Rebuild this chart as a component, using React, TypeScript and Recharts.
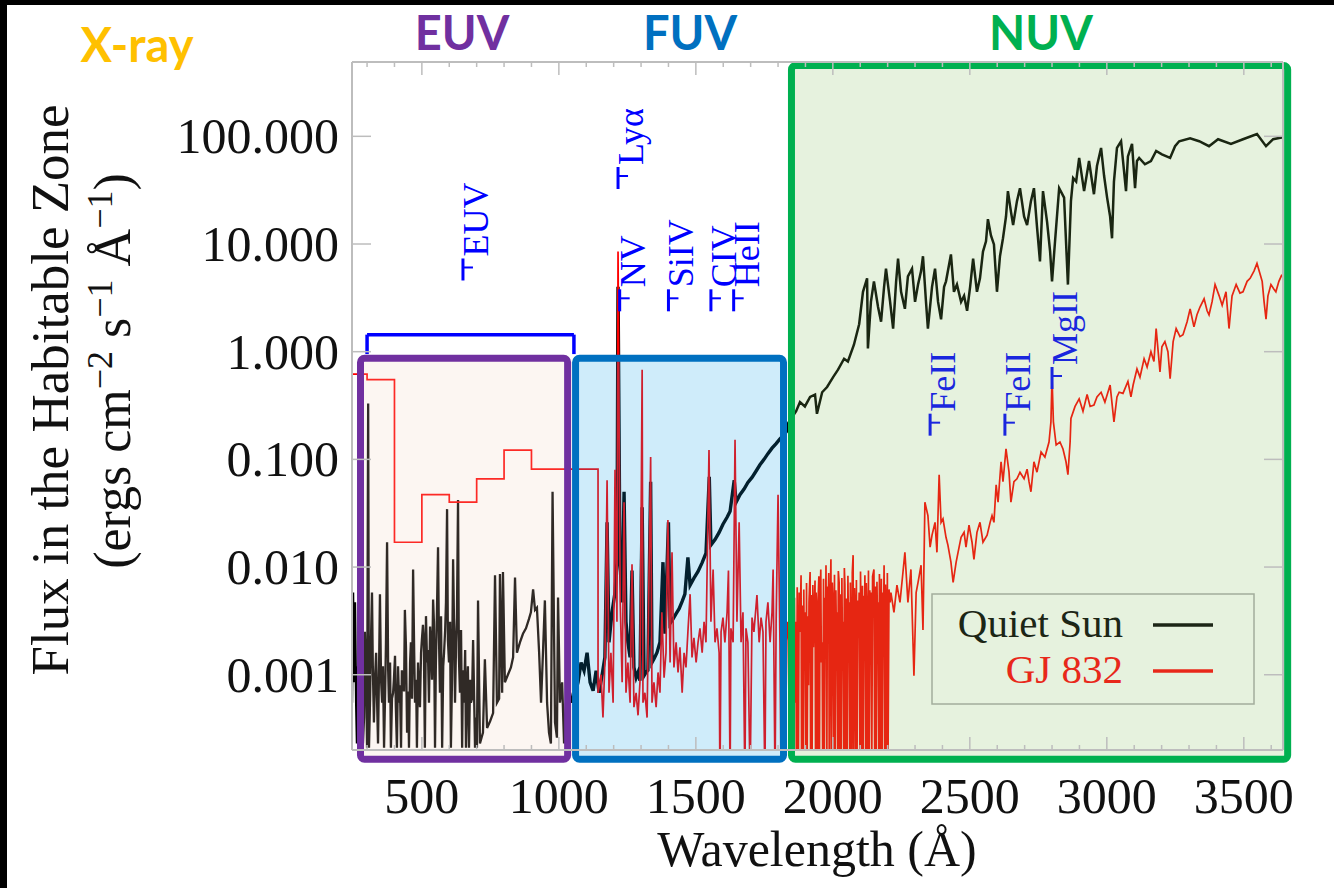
import {
  ComposedChart,
  Line,
  XAxis,
  YAxis,
  ReferenceArea,
  ReferenceDot,
  ReferenceLine,
  Legend
} from "recharts";

/* ---------- FONTS / COLOURS ---------- */

const SERIF = '"Liberation Serif", "Times New Roman", serif';
const SANS = 'Lato, "Open Sans", sans-serif';
const FRAME = "#bdbdbd";
const LINE_BLUE = "#0000ff";

/* ---------- SPECTRA  [wavelength (Å), flux (ergs cm-2 s-1 Å-1)] ---------- */

const quietSunEUV: [number, number][] = [
  [245, 0.00055], [249, 0.0058], [252, 0.00085], [256, 0.0047], [260, 0.00055], [263, 0.00023],
  [267, 0.0012], [271, 0.00036], [274, 0.0009], [278, 0.0047], [282, 0.0015], [285, 0.00023],
  [289, 0.0004], [292, 0.0025], [296, 0.0011], [300, 0.00021], [304, 0.33], [307, 0.00021],
  [311, 0.0006], [314, 0.002], [318, 0.0058], [321, 0.0012], [325, 0.00036], [329, 0.0009],
  [333, 0.0016], [337, 0.0005], [340, 0.00023], [344, 0.0013], [347, 0.0056], [351, 0.0009],
  [355, 0.00055], [358, 0.0012], [362, 0.00021], [366, 0.0007], [369, 0.002], [373, 0.017],
  [377, 0.0011], [380, 0.00055], [384, 0.0013], [387, 0.00021], [391, 0.0006], [395, 0.00068],
  [398, 0.0009], [402, 0.0015], [405, 0.0005], [409, 0.00021], [413, 0.0012], [417, 0.00055],
  [420, 0.0008], [424, 0.00021], [427, 0.0011], [431, 0.00085], [435, 0.0007], [438, 0.004],
  [442, 0.0018], [446, 0.00029], [450, 0.0007], [453, 0.00021], [457, 0.0013], [460, 0.002],
  [464, 0.0006], [468, 0.0095], [472, 0.0016], [475, 0.00055], [479, 0.0009], [482, 0.00021],
  [486, 0.0013], [490, 0.00068], [493, 0.0005], [497, 0.0016], [500, 0.0021], [504, 0.0029],
  [507, 0.0022], [511, 0.00021], [515, 0.0035], [519, 0.0013], [522, 0.0017], [526, 0.00055],
  [530, 0.0028], [533, 0.002], [537, 0.0009], [541, 0.005], [544, 0.0031], [548, 0.00021],
  [551, 0.0012], [555, 0.0038], [559, 0.0153], [562, 0.0026], [566, 0.00068], [570, 0.0035],
  [574, 0.00021], [578, 0.0012], [581, 0.0016], [585, 0.0026], [588, 0.0047], [592, 0.0345],
  [595, 0.0021], [599, 0.0013], [603, 0.0031], [606, 0.00021], [610, 0.0009], [614, 0.0118],
  [618, 0.0024], [621, 0.00055], [625, 0.002], [628, 0.0034], [632, 0.042], [635, 0.0015],
  [639, 0.00068], [643, 0.0026], [647, 0.00021], [650, 0.0011], [654, 0.00055], [658, 0.0017],
  [661, 0.00021], [665, 0.00079], [668, 0.0012], [672, 0.00021], [676, 0.0009], [679, 0.00055],
  [683, 0.0006], [687, 0.0021], [690, 0.0008], [694, 0.00021], [697, 0.0004], [701, 0.00021],
  [705, 0.0049], [712, 0.00023], [723, 0.00029], [730, 0.00139], [738, 0.00032], [749, 0.00037],
  [760, 0.00044], [767, 0.0084], [774, 0.00055], [782, 0.0006], [785, 0.0086], [793, 0.00068],
  [796, 0.009], [803, 0.00085], [814, 0.001], [825, 0.00117], [833, 0.00145], [840, 0.008],
  [847, 0.0016], [858, 0.002], [869, 0.0024], [880, 0.0027], [891, 0.0033], [898, 0.0038],
  [906, 0.0062], [913, 0.004], [920, 0.0042], [928, 0.0016], [935, 0.00055], [942, 0.0016],
  [949, 0.0049], [957, 0.00055], [964, 0.00029], [971, 0.00023], [977, 0.05], [986, 0.00036],
  [993, 0.00026], [997, 0.0052], [1004, 0.00055], [1012, 0.00085], [1019, 0.00023], [1026, 0.00055],
  [1033, 0.00021], [1041, 0.00068], [1048, 0.00055]
];

const quietSunFUV: [number, number][] = [
  [1048, 0.00055], [1059, 0.00068], [1070, 0.00085], [1081, 0.0013], [1092, 0.00109], [1103, 0.0016],
  [1114, 0.00085], [1125, 0.00071], [1136, 0.00109], [1147, 0.00068], [1158, 0.001], [1168, 0.00145],
  [1176, 0.026], [1183, 0.002], [1194, 0.0038], [1205, 0.0058], [1212, 0.0111], [1216, 4.0],
  [1223, 0.0111], [1231, 0.0047], [1238, 0.05], [1245, 0.0031], [1252, 0.002], [1260, 0.00145],
  [1267, 0.0093], [1274, 0.00117], [1282, 0.00094], [1289, 0.00105], [1296, 0.00088], [1304, 0.036],
  [1311, 0.00098], [1318, 0.00105], [1325, 0.0011], [1335, 0.062], [1340, 0.0013], [1347, 0.0014],
  [1358, 0.0016], [1369, 0.002], [1380, 0.0111], [1387, 0.0024], [1400, 0.026], [1406, 0.003],
  [1417, 0.0033], [1428, 0.0037], [1439, 0.0041], [1450, 0.0048], [1460, 0.0056], [1471, 0.0123],
  [1479, 0.0068], [1493, 0.0079], [1508, 0.0091], [1523, 0.011], [1537, 0.0135], [1549, 0.069],
  [1555, 0.016], [1570, 0.018], [1585, 0.021], [1599, 0.025], [1614, 0.029], [1625, 0.033],
  [1640, 0.064], [1647, 0.04], [1661, 0.047], [1676, 0.053], [1690, 0.061], [1705, 0.068],
  [1720, 0.078], [1734, 0.089], [1749, 0.1], [1763, 0.113], [1778, 0.127], [1793, 0.14],
  [1807, 0.155], [1822, 0.17], [1833, 0.185], [1840, 0.223]
];

const quietSunNUV: [number, number][] = [
  [1840, 0.223], [1866, 0.28], [1880, 0.34], [1898, 0.31], [1917, 0.38], [1935, 0.4],
  [1942, 0.265], [1961, 0.42], [1979, 0.47], [2001, 0.58], [2019, 0.68], [2041, 0.86],
  [2055, 0.81], [2077, 1.16], [2096, 1.8], [2110, 3.6], [2125, 4.8], [2128, 1.07],
  [2139, 2.9], [2150, 4.5], [2165, 2.6], [2176, 1.9], [2187, 4.0], [2194, 5.9],
  [2209, 2.9], [2220, 1.64], [2231, 4.5], [2238, 7.3], [2249, 3.6], [2263, 2.5],
  [2274, 5.0], [2289, 5.9], [2300, 2.9], [2311, 4.2], [2322, 5.6], [2329, 7.7],
  [2340, 2.9], [2347, 1.64], [2362, 4.0], [2373, 5.9], [2384, 2.9], [2395, 2.0],
  [2406, 4.0], [2413, 4.5], [2431, 8.0], [2442, 3.6], [2453, 4.2], [2468, 2.9],
  [2479, 3.3], [2490, 2.4], [2501, 4.0], [2512, 7.3], [2526, 3.6], [2537, 4.8],
  [2548, 8.5], [2559, 10.6], [2566, 17], [2577, 12], [2588, 9.9], [2599, 3.6],
  [2610, 7.7], [2621, 11.3], [2632, 18], [2639, 31], [2650, 20], [2658, 15],
  [2672, 25], [2683, 33], [2698, 18], [2709, 15], [2723, 25], [2734, 33],
  [2745, 14.6], [2756, 6.9], [2767, 31], [2782, 16], [2793, 8.5], [2800, 4.5],
  [2811, 10.6], [2826, 33], [2844, 27], [2858, 4.2], [2869, 25], [2877, 41],
  [2888, 38], [2899, 63], [2917, 31], [2935, 59], [2953, 29], [2964, 53],
  [2979, 78], [2990, 43], [3001, 27], [3012, 18], [3019, 11.3], [3026, 38],
  [3037, 78], [3052, 90], [3063, 47], [3070, 31], [3077, 65], [3092, 85],
  [3103, 33], [3110, 59], [3118, 63], [3139, 55], [3161, 59], [3180, 73],
  [3201, 68], [3231, 63], [3249, 81], [3264, 90], [3304, 96], [3337, 90],
  [3373, 81], [3406, 94], [3453, 85], [3497, 94], [3548, 105], [3581, 81],
  [3607, 94], [3643, 98]
];

// GJ 832 EUV model in 100 Å bins, then the observed spectrum
const gj832Model: [number, number][] = [
  [245, 0.62], [300, 0.62], [300, 0.55], [400, 0.55], [400, 0.017], [500, 0.017],
  [500, 0.047], [600, 0.047], [600, 0.04], [700, 0.04], [700, 0.066], [800, 0.066],
  [800, 0.122], [900, 0.122], [900, 0.081], [1143, 0.081]
];

const gj832FUV: [number, number][] = [
  [1143, 0.00068], [1154, 0.001], [1161, 0.0004], [1168, 0.0013], [1176, 0.064], [1183, 0.00068],
  [1190, 0.0016], [1198, 0.00055], [1205, 0.08], [1212, 0.0031], [1216, 8.5], [1224, 0.0047],
  [1231, 0.00085], [1238, 0.04], [1245, 0.00068], [1252, 0.0013], [1260, 0.00055], [1267, 0.0106],
  [1274, 0.0005], [1282, 0.00068], [1289, 0.00042], [1296, 0.00085], [1304, 0.68], [1307, 0.00055],
  [1314, 0.00068], [1322, 0.0004], [1335, 0.105], [1340, 0.00055], [1347, 0.00085], [1355, 0.0005],
  [1362, 0.00105], [1369, 0.00068], [1376, 0.0038], [1384, 0.00094], [1391, 0.0016], [1398, 0.0273],
  [1406, 0.0013], [1413, 0.0137], [1420, 0.00117], [1428, 0.002], [1435, 0.00105], [1442, 0.0018],
  [1450, 0.00068], [1457, 0.0016], [1464, 0.00117], [1471, 0.0025], [1479, 0.0056], [1486, 0.00145],
  [1493, 0.0022], [1501, 0.0013], [1508, 0.002], [1515, 0.0027], [1523, 0.0016], [1530, 0.0031],
  [1537, 0.002], [1548, 0.122], [1555, 0.0031], [1563, 0.0095], [1570, 0.002], [1577, 0.0027],
  [1585, 0.0016], [1588, 0.0001], [1592, 0.0025], [1599, 0.0034], [1606, 0.002], [1614, 0.0038],
  [1619, 0.0093], [1625, 0.0001], [1628, 0.0027], [1636, 0.002], [1643, 0.152], [1650, 0.0031],
  [1658, 0.026], [1665, 0.002], [1672, 0.0038], [1679, 0.0001], [1683, 0.0027], [1690, 0.002],
  [1698, 0.0001], [1705, 0.0034], [1712, 0.0025], [1723, 0.0055], [1731, 0.002], [1738, 0.0034],
  [1745, 0.0025], [1752, 0.0001], [1756, 0.0031], [1763, 0.0047], [1771, 0.002], [1778, 0.0038],
  [1782, 0.0095], [1789, 0.0001], [1793, 0.0031], [1800, 0.047], [1807, 0.002], [1811, 0.0001],
  [1818, 0.0038], [1825, 0.0001], [1833, 0.0031]
];

const gj832NUV: [number, number][] = [
  [1840, 0.002], [1842, 0.0001], [1845, 0.0042], [1847, 0.0001], [1850, 0.003], [1853, 0.0006],
  [1855, 0.0047], [1858, 0.0001], [1860, 0.0052], [1862, 0.00055], [1865, 0.0031], [1867, 0.0001],
  [1870, 0.0065], [1872, 0.0015], [1874, 0.0001], [1877, 0.0058], [1880, 0.0025], [1884, 0.0084],
  [1886, 0.0001], [1889, 0.0044], [1891, 0.0001], [1894, 0.0062], [1896, 0.0012], [1898, 0.0038],
  [1901, 0.0001], [1904, 0.0071], [1906, 0.0001], [1909, 0.0035], [1911, 0.0008], [1913, 0.0047],
  [1917, 0.009], [1919, 0.0001], [1922, 0.0055], [1924, 0.0001], [1927, 0.0068], [1929, 0.0018],
  [1931, 0.0031], [1935, 0.0075], [1937, 0.0001], [1939, 0.0058], [1942, 0.0028], [1944, 0.0001],
  [1946, 0.0049], [1949, 0.0082], [1951, 0.0001], [1953, 0.0047], [1956, 0.0095], [1958, 0.0013],
  [1961, 0.002], [1963, 0.0001], [1966, 0.0078], [1968, 0.0001], [1971, 0.0052], [1973, 0.0021],
  [1975, 0.0104], [1978, 0.0001], [1980, 0.0066], [1982, 0.0031], [1985, 0.0088], [1987, 0.0001],
  [1990, 0.0043], [1993, 0.0118], [1995, 0.0001], [1998, 0.0072], [2001, 0.0047], [2004, 0.0001],
  [2006, 0.0085], [2008, 0.0001], [2011, 0.0061], [2013, 0.0024], [2015, 0.0038], [2018, 0.0001],
  [2020, 0.0092], [2023, 0.0072], [2025, 0.0001], [2028, 0.0056], [2030, 0.0001], [2033, 0.0079],
  [2035, 0.0019], [2037, 0.0031], [2040, 0.0001], [2042, 0.0098], [2044, 0.0068], [2047, 0.0001],
  [2049, 0.0051], [2052, 0.0001], [2055, 0.0083], [2057, 0.0027], [2059, 0.0047], [2062, 0.0001],
  [2064, 0.0072], [2066, 0.002], [2069, 0.0001], [2071, 0.0089], [2074, 0.0129], [2076, 0.0001],
  [2079, 0.0064], [2081, 0.0038], [2084, 0.0001], [2086, 0.0076], [2088, 0.0001], [2091, 0.0049],
  [2093, 0.0022], [2096, 0.0058], [2099, 0.0001], [2101, 0.0091], [2103, 0.0031], [2106, 0.0001],
  [2108, 0.0067], [2110, 0.0001], [2113, 0.0054], [2115, 0.0018], [2117, 0.0084], [2120, 0.0001],
  [2122, 0.0071], [2125, 0.0038], [2127, 0.0001], [2130, 0.0093], [2132, 0.0001], [2135, 0.0061],
  [2137, 0.0025], [2139, 0.0058], [2142, 0.0001], [2145, 0.0082], [2150, 0.0095], [2153, 0.0001],
  [2155, 0.0066], [2158, 0.0001], [2161, 0.0073], [2163, 0.0029], [2165, 0.0047], [2168, 0.0001],
  [2170, 0.0086], [2172, 0.0031], [2175, 0.0001], [2177, 0.0078], [2180, 0.0001], [2183, 0.0058],
  [2185, 0.0036], [2187, 0.0104], [2190, 0.0001], [2192, 0.0069], [2194, 0.0047], [2197, 0.0001],
  [2199, 0.0088], [2201, 0.0001], [2205, 0.0062], [2209, 0.0047], [2212, 0.0058], [2223, 0.0038],
  [2234, 0.0068], [2245, 0.0047], [2256, 0.009], [2263, 0.0137], [2274, 0.0047], [2285, 0.0095],
  [2296, 0.00098], [2304, 0.0058], [2311, 0.0072], [2322, 0.0104], [2329, 0.0026], [2336, 0.04],
  [2347, 0.03], [2355, 0.0153], [2362, 0.0198], [2373, 0.026], [2380, 0.0137], [2388, 0.072],
  [2395, 0.026], [2402, 0.028], [2413, 0.0189], [2420, 0.016], [2431, 0.0111], [2439, 0.0072],
  [2450, 0.0111], [2457, 0.0137], [2468, 0.0189], [2479, 0.021], [2486, 0.0153], [2497, 0.0245],
  [2508, 0.017], [2515, 0.0118], [2526, 0.021], [2537, 0.026], [2548, 0.017], [2563, 0.0198],
  [2574, 0.026], [2581, 0.03], [2588, 0.026], [2596, 0.058], [2603, 0.04], [2614, 0.095],
  [2621, 0.062], [2632, 0.125], [2643, 0.076], [2650, 0.04], [2661, 0.062], [2672, 0.066],
  [2683, 0.076], [2698, 0.066], [2709, 0.081], [2716, 0.062], [2723, 0.05], [2734, 0.095],
  [2745, 0.076], [2760, 0.117], [2774, 0.105], [2789, 0.145], [2796, 0.223], [2800, 0.58],
  [2805, 0.223], [2815, 0.136], [2829, 0.145], [2840, 0.125], [2851, 0.095], [2858, 0.072],
  [2866, 0.145], [2869, 0.24], [2884, 0.31], [2899, 0.365], [2913, 0.28], [2928, 0.4],
  [2939, 0.31], [2953, 0.32], [2964, 0.38], [2979, 0.42], [2993, 0.34], [3012, 0.49],
  [3026, 0.223], [3037, 0.38], [3045, 0.42], [3059, 0.41], [3077, 0.53], [3088, 0.38],
  [3096, 0.49], [3110, 0.69], [3121, 0.58], [3136, 0.86], [3147, 0.72], [3161, 1.0],
  [3172, 0.81], [3180, 1.64], [3194, 0.65], [3201, 1.11], [3212, 1.24], [3223, 1.0],
  [3231, 0.56], [3242, 1.24], [3253, 1.64], [3267, 1.38], [3278, 1.44], [3293, 1.9],
  [3304, 2.5], [3318, 1.7], [3329, 2.2], [3340, 2.6], [3355, 3.1], [3366, 2.4],
  [3373, 2.2], [3384, 2.9], [3395, 4.2], [3410, 3.3], [3421, 2.7], [3435, 3.6],
  [3446, 1.64], [3457, 3.3], [3472, 4.2], [3486, 3.5], [3497, 3.6], [3512, 4.5],
  [3523, 4.8], [3537, 5.6], [3548, 6.6], [3559, 5.3], [3567, 4.5], [3574, 2.9],
  [3581, 2.0], [3588, 3.3], [3599, 4.2], [3610, 3.8], [3617, 3.6], [3628, 4.5],
  [3639, 5.2]
];

/* ---------- AXES ---------- */

const xMajorTicks = [500, 1000, 1500, 2000, 2500, 3000, 3500];
const xAllTicks = [
  300, 400, 500, 600, 700, 800, 900, 1000, 1100, 1200, 1300, 1400, 1500, 1600, 1700, 1800, 1900,
  2000, 2100, 2200, 2300, 2400, 2500, 2600, 2700, 2800, 2900, 3000, 3100, 3200, 3300, 3400, 3500, 3600
];
const yTicks = [0.001, 0.01, 0.1, 1, 10, 100];

/* ---------- LINE IDENTIFICATIONS ---------- */

const lineIds = [
  { name: "EUV", w: 650, f: 5.8 },
  { name: "Lyα", w: 1216, f: 41 },
  { name: "NV", w: 1222, f: 3.0 },
  { name: "SiIV", w: 1400, f: 3.0 },
  { name: "CIV", w: 1555, f: 3.0 },
  { name: "HeII", w: 1638, f: 3.0 },
  { name: "FeII", w: 2355, f: 0.21 },
  { name: "FeII", w: 2628, f: 0.21 },
  { name: "MgII", w: 2800, f: 0.57 }
];

/* ---------- HELPERS ---------- */

const toPoints = (rows: [number, number][]) => rows.map(([w, f]) => ({ w, f }));

const gj832 = toPoints([...gj832Model, ...gj832FUV, ...gj832NUV]);

const sunBands = [
  { key: "euv", data: toPoints(quietSunEUV), width: 2.3 },
  { key: "fuv", data: toPoints(quietSunFUV), width: 3.4 },
  { key: "nuv", data: toPoints(quietSunNUV), width: 2.5 }
];

function BottomTick({ x, y, payload }: any) {
  const major = xMajorTicks.includes(payload.value);
  return (
    <g>
      <line x1={x} x2={x} y1={y} y2={y - (major ? 13 : 5)} stroke={FRAME} strokeWidth={1.5} />
      {major && (
        <text x={x} y={y + 63} textAnchor="middle" fontFamily={SERIF} fontSize={50} fill="#111">
          {payload.value}
        </text>
      )}
    </g>
  );
}

function TopTick({ x, y, payload }: any) {
  const major = xMajorTicks.includes(payload.value);
  return <line x1={x} x2={x} y1={y} y2={y + (major ? 13 : 5)} stroke={FRAME} strokeWidth={1.5} />;
}

function LeftTick({ x, y, payload }: any) {
  return (
    <g>
      <line x1={x} x2={x + 19} y1={y} y2={y} stroke={FRAME} strokeWidth={1.5} />
      <text x={x - 13} y={y + 17} textAnchor="end" fontFamily={SERIF} fontSize={50} fill="#111">
        {Number(payload.value).toFixed(3)}
      </text>
    </g>
  );
}

function RightTick({ x, y }: any) {
  return <line x1={x} x2={x - 19} y1={y} y2={y} stroke={FRAME} strokeWidth={1.5} />;
}

// blue line marker with rotated identification
const lineMark = (label: string) => (props: any) => {
  const { cx, cy } = props;
  return (
    <g>
      <line x1={cx} x2={cx} y1={cy - 11} y2={cy + 11} stroke={LINE_BLUE} strokeWidth={3} />
      <line x1={cx} x2={cx + 10} y1={cy - 2} y2={cy - 2} stroke={LINE_BLUE} strokeWidth={2} />
      <text
        transform={`translate(${cx + 25},${cy - 13}) rotate(-90)`}
        fontFamily={SERIF}
        fontSize={36}
        fill={LINE_BLUE}
      >
        {label}
      </text>
    </g>
  );
};

// band boxes: translucent tint over the spectra, opaque border
const bandBox = (stroke: string, tint: string) => (props: any) => {
  const { x, y, width, height } = props;
  return (
    <rect
      x={x}
      y={y}
      width={width}
      height={height}
      rx={4}
      fill={tint}
      fillOpacity={0.2}
      stroke={stroke}
      strokeWidth={7}
    />
  );
};

function LegendBox() {
  return (
    <svg width={324} height={112} style={{ display: "block" }}>
      <rect x={1} y={1} width={322} height={110} fill="none" stroke="#a3ad9c" strokeWidth={1.5} />
      <text x={192} y={44} textAnchor="end" fontFamily={SERIF} fontSize={41} fill="#1c2616">
        Quiet Sun
      </text>
      <line x1={222} x2={282} y1={32} y2={32} stroke="#1c2616" strokeWidth={3.5} />
      <text x={192} y={90} textAnchor="end" fontFamily={SERIF} fontSize={41} fill="#e8281a">
        GJ 832
      </text>
      <line x1={222} x2={282} y1={78} y2={78} stroke="#e8281a" strokeWidth={3.5} />
    </svg>
  );
}

/* ---------- MAIN COMPONENT ---------- */

export default function App() {
  return (
    <div
      style={{
        position: "fixed",
        left: 0,
        top: 0,
        width: 1334,
        height: 888,
        background: "#fff",
        overflow: "hidden"
      }}
    >
      <div style={{ position: "absolute", left: 0, top: 0, width: 1334, height: 5, background: "#000" }} />
      <div style={{ position: "absolute", left: 0, top: 0, width: 7, height: 888, background: "#000" }} />

      <div style={{ position: "absolute", left: 0, top: 0 }}>
        <ComposedChart
          width={1334}
          height={888}
          margin={{ top: 61, right: 50, bottom: 137, left: 351 }}
        >
          <XAxis
            xAxisId="bottom"
            type="number"
            dataKey="w"
            domain={[245, 3643]}
            allowDataOverflow
            ticks={xAllTicks}
            interval={0}
            height={1}
            tickSize={0}
            tickMargin={0}
            tickLine={false}
            tick={<BottomTick />}
            axisLine={{ stroke: FRAME, strokeWidth: 2 }}
          />
          <XAxis
            xAxisId="top"
            orientation="top"
            type="number"
            dataKey="w"
            domain={[245, 3643]}
            allowDataOverflow
            ticks={xAllTicks}
            interval={0}
            height={1}
            tickSize={0}
            tickMargin={0}
            tickLine={false}
            tick={<TopTick />}
            axisLine={{ stroke: FRAME, strokeWidth: 2 }}
          />
          <YAxis
            yAxisId="left"
            type="number"
            scale="log"
            domain={[0.0002, 490]}
            allowDataOverflow
            ticks={yTicks}
            interval={0}
            width={1}
            tickSize={0}
            tickMargin={0}
            tickLine={false}
            tick={<LeftTick />}
            axisLine={{ stroke: FRAME, strokeWidth: 2 }}
          />
          <YAxis
            yAxisId="right"
            orientation="right"
            type="number"
            scale="log"
            domain={[0.0002, 490]}
            allowDataOverflow
            ticks={yTicks}
            interval={0}
            width={1}
            tickSize={0}
            tickMargin={0}
            tickLine={false}
            tick={<RightTick />}
            axisLine={{ stroke: FRAME, strokeWidth: 2 }}
          />

          {/* SPECTRA */}

          {sunBands.map((b) => (
            <Line
              key={b.key}
              xAxisId="bottom"
              yAxisId="left"
              data={b.data}
              dataKey="f"
              type="linear"
              stroke="#000"
              strokeWidth={b.width}
              dot={false}
              isAnimationActive={false}
            />
          ))}
          <Line
            xAxisId="bottom"
            yAxisId="left"
            data={gj832}
            dataKey="f"
            type="linear"
            stroke="#ff0000"
            strokeWidth={1.7}
            dot={false}
            isAnimationActive={false}
          />

          {/* EUV BRACKET */}

          <ReferenceLine
            xAxisId="bottom"
            yAxisId="left"
            segment={[{ x: 300, y: 0.95 }, { x: 300, y: 1.44 }]}
            stroke={LINE_BLUE}
            strokeWidth={3.5}
            ifOverflow="visible"
            zIndex={410}
          />
          <ReferenceLine
            xAxisId="bottom"
            yAxisId="left"
            segment={[{ x: 300, y: 1.44 }, { x: 1055, y: 1.44 }]}
            stroke={LINE_BLUE}
            strokeWidth={3.5}
            ifOverflow="visible"
            zIndex={410}
          />
          <ReferenceLine
            xAxisId="bottom"
            yAxisId="left"
            segment={[{ x: 1055, y: 1.44 }, { x: 1055, y: 0.95 }]}
            stroke={LINE_BLUE}
            strokeWidth={3.5}
            ifOverflow="visible"
            zIndex={410}
          />

          {/* LINE IDENTIFICATIONS */}

          {lineIds.map((l, i) => (
            <ReferenceDot
              key={`${l.name}-${i}`}
              xAxisId="bottom"
              yAxisId="left"
              x={l.w}
              y={l.f}
              ifOverflow="visible"
              shape={lineMark(l.name)}
              zIndex={410}
            />
          ))}

          {/* BAND BOXES */}

          <ReferenceArea
            xAxisId="bottom"
            yAxisId="left"
            x1={276}
            x2={1032}
            y1={0.000164}
            y2={0.87}
            ifOverflow="visible"
            shape={bandBox("#7030a0", "#f0d2be")}
            zIndex={450}
          />
          <ReferenceArea
            xAxisId="bottom"
            yAxisId="left"
            x1={1061}
            x2={1820}
            y1={0.000164}
            y2={0.87}
            ifOverflow="visible"
            shape={bandBox("#0070c0", "#0fa0e6")}
            zIndex={450}
          />
          <ReferenceArea
            xAxisId="bottom"
            yAxisId="left"
            x1={1849}
            x2={3660}
            y1={0.000164}
            y2={455}
            ifOverflow="visible"
            shape={bandBox("#00b050", "#82be5a")}
            zIndex={450}
          />

          <Legend
            layout="vertical"
            align="center"
            verticalAlign="middle"
            content={<LegendBox />}
            wrapperStyle={{ left: 931, top: 593, width: 324, height: 112 }}
          />
        </ComposedChart>
      </div>

      {/* TITLES */}

      <svg
        width={1334}
        height={888}
        style={{ position: "absolute", left: 0, top: 0, pointerEvents: "none" }}
      >
        <g fontFamily={SANS} fontWeight={700} fontSize={47} textAnchor="middle">
          <text x={137} y={62} fill="#ffc000">X-ray</text>
          <text x={462} y={50} fill="#7030a0">EUV</text>
          <text x={690} y={50} fill="#0070c0">FUV</text>
          <text x={1041} y={50} fill="#00b050">NUV</text>
        </g>

        <text x={817} y={866} textAnchor="middle" fontFamily={SERIF} fontSize={50} fill="#111">
          Wavelength (Å)
        </text>

        <text
          transform="translate(68,390) rotate(-90)"
          textAnchor="middle"
          fontFamily={SERIF}
          fontSize={53}
          fill="#111"
        >
          Flux in the Habitable Zone
        </text>
        <text
          transform="translate(130,371) rotate(-90)"
          textAnchor="middle"
          fontFamily={SERIF}
          fontSize={52}
          fill="#111"
        >
          (ergs cm
          <tspan dy={-18} fontSize={36}>−2</tspan>
          <tspan dy={18}> s</tspan>
          <tspan dy={-18} fontSize={36}>−1</tspan>
          <tspan dy={18}> Å</tspan>
          <tspan dy={-18} fontSize={36}>−1</tspan>
          <tspan dy={18}>)</tspan>
        </text>
      </svg>
    </div>
  );
}
